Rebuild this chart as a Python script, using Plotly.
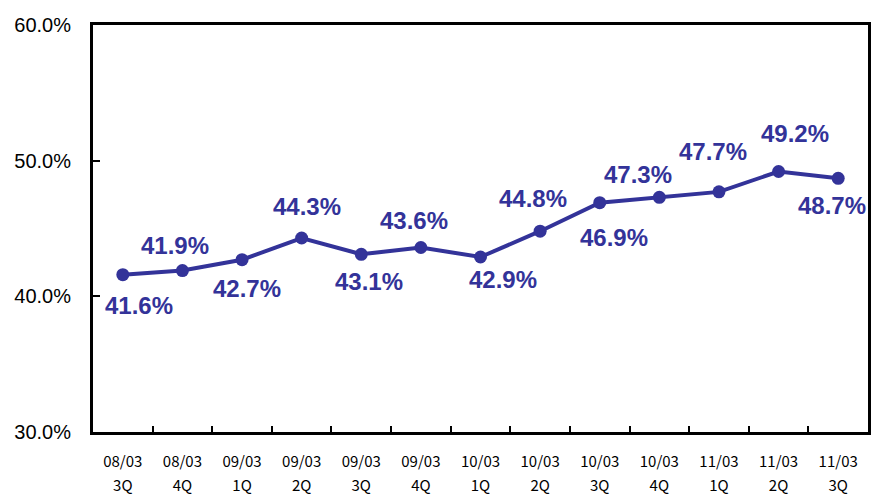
import plotly.graph_objects as go

periods = ["08/03", "08/03", "09/03", "09/03", "09/03", "09/03", "10/03",
           "10/03", "10/03", "10/03", "11/03", "11/03", "11/03"]
quarters = ["3Q", "4Q", "1Q", "2Q", "3Q", "4Q", "1Q", "2Q", "3Q", "4Q", "1Q", "2Q", "3Q"]
values = [41.6, 41.9, 42.7, 44.3, 43.1, 43.6, 42.9, 44.8, 46.9, 47.3, 47.7, 49.2, 48.7]

# label offsets in pixels (styling only)
label_dx = [16, -7, 5, 5, 8, -7, 22, -7, 14, -21, -6, 16, -6]
label_dy = [-31, 25, -29, 32, -27, 27, -23, 33, -35, 23, 40, 38, -27]

cats = [f"{p} {q}" for p, q in zip(periods, quarters)]
color = "#333399"

fig = go.Figure()
fig.add_trace(go.Scatter(
    x=cats, y=values, mode="lines+markers",
    line=dict(color=color, width=4),
    marker=dict(color=color, size=13),
    showlegend=False, hoverinfo="skip",
))
# invisible trace to drive the second (quarter) label row
fig.add_trace(go.Scatter(x=cats, y=values, xaxis="x2", mode="markers",
                         marker=dict(opacity=0), showlegend=False, hoverinfo="skip"))

for c, v, dx, dy in zip(cats, values, label_dx, label_dy):
    fig.add_annotation(x=c, y=v, text=f"<b>{v:.1f}%</b>", showarrow=False,
                       xshift=dx, yshift=dy,
                       font=dict(family="Liberation Sans", size=24, color=color))

n = len(cats)
fig.update_layout(
    width=883, height=498,
    margin=dict(l=93, r=15, t=25, b=66, autoexpand=False),
    paper_bgcolor="white", plot_bgcolor="white",
    xaxis=dict(
        type="category", range=[-0.5, n - 0.5], autorange=False,
        tickmode="array", tickvals=cats, ticktext=periods,
        tickson="boundaries", ticks="inside", ticklen=6, tickwidth=1.5, tickcolor="black",
        showline=True, linecolor="black", linewidth=3, mirror=True,
        showgrid=False, ticklabelstandoff=14, automargin=False,
        tickfont=dict(family="Noto Sans CJK JP", size=15, color="black"),
    ),
    xaxis2=dict(
        type="category", overlaying="x", matches="x", side="bottom", anchor="y",
        tickmode="array", tickvals=cats, ticktext=quarters,
        ticks="", showline=False, showgrid=False, ticklabelstandoff=43, automargin=False,
        tickfont=dict(family="Noto Sans CJK JP", size=15, color="black"),
    ),
    yaxis=dict(
        range=[30, 60], dtick=10, tickformat=".1f", ticksuffix="%",
        ticks="inside", ticklen=7, tickwidth=1.5, tickcolor="black",
        showline=True, linecolor="black", linewidth=3, mirror=True,
        showgrid=False, zeroline=False, ticklabelstandoff=15, automargin=False,
        tickfont=dict(family="Liberation Sans", size=20, color="black"),
    ),
)

fig.write_html("out.html", config={"displayModeBar": False},
               post_script="document.body.style.margin='0px';")
